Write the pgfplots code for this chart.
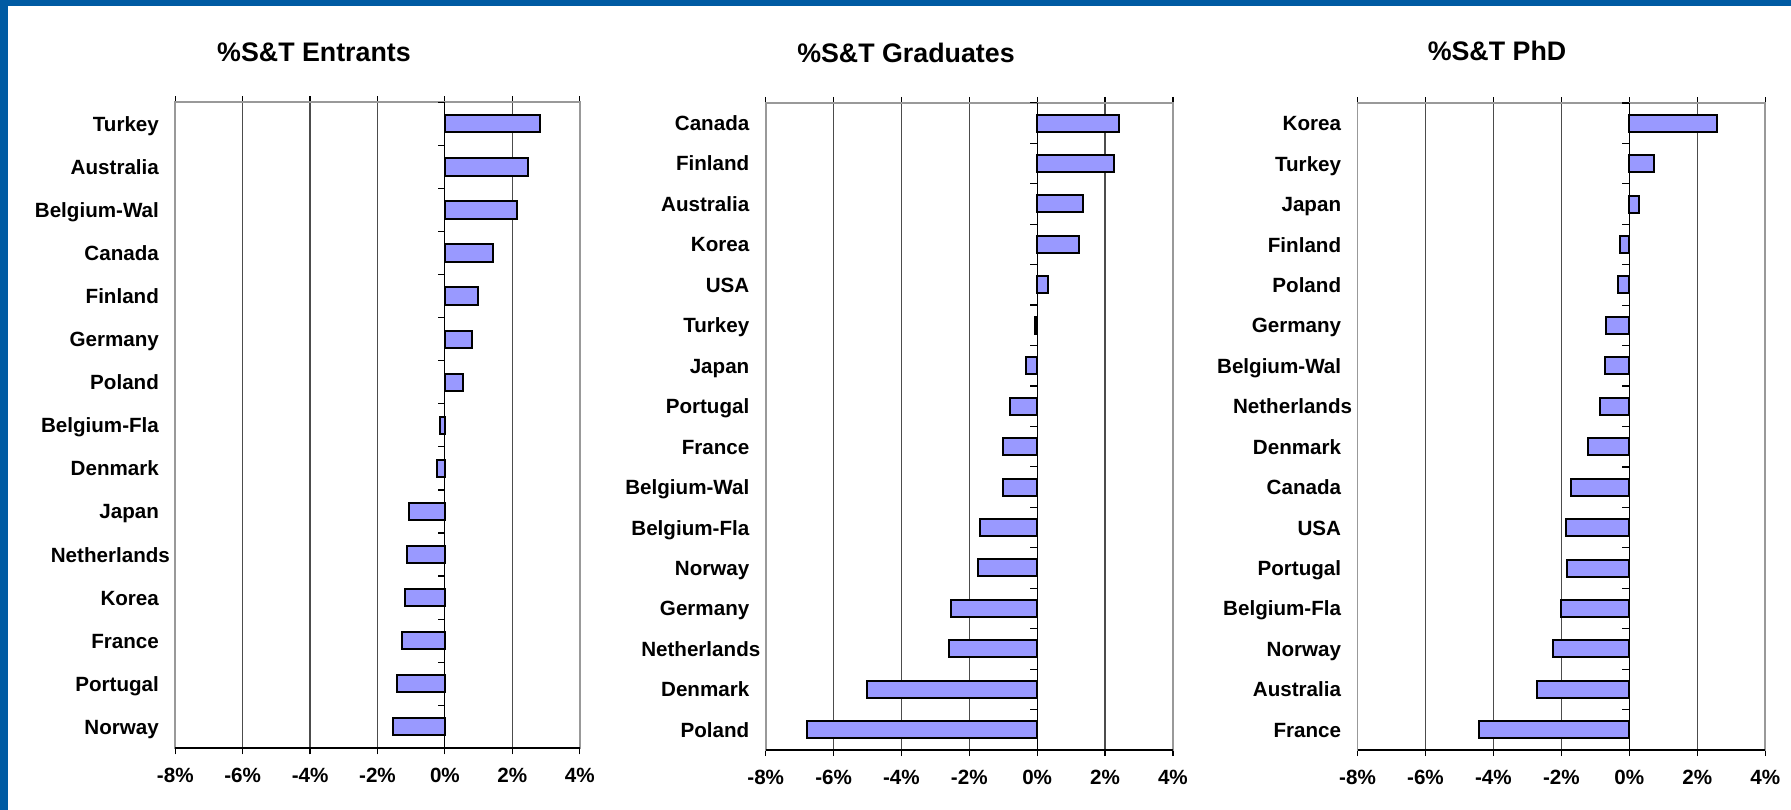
\documentclass[border=0pt]{standalone}
\usepackage{pgfplots}
\pgfplotsset{compat=1.18}
\usepackage{fontspec}
\setmainfont{Liberation Sans}
\definecolor{barfill}{HTML}{9999FF}
\definecolor{frameblue}{HTML}{005BA3}
\newcommand\gap{\hspace*{5.5bp}}

\pgfplotsset{
  panel/.style={
    scale only axis,
    anchor=south west,
    xbar,
    xmin=-8, xmax=4, ymin=-0.5, y dir=reverse,
    xtick={-8,-6,-4,-2,0,2,4},
    xticklabels={-8\%,-6\%,-4\%,-2\%,0\%,2\%,4\%},
    xmajorgrids,
    grid style={black!70, line width=0.6bp},
    axis line style={black!40, line width=0.9bp},
    tick align=outside,
    major tick length=3bp,
    x tick style={black, line width=0.6bp},
    y tick style={draw=none},
    tick label style={font=\bfseries\fontsize{10.3bp}{12bp}\selectfont},
    xticklabel style={yshift=-3.5bp},
    yticklabel style={inner xsep=0pt, xshift=0.5bp, text height=7.5bp, text depth=0bp},
    clip=false,
  },
  zeroticks/.style={
    execute at end axis={
      \draw[black, line width=0.9bp] (axis description cs:0,0) -- (axis description cs:1,0);
      \draw[black, line width=0.6bp] (axis cs:0,-0.5) -- (axis cs:0,#1);
      \pgfplotsinvokeforeach{-0.5,0.5,1.5,2.5,3.5,4.5,5.5,6.5,7.5,8.5,9.5,10.5,11.5,12.5,13.5,14.5,15.5}{
        \pgfmathparse{##1<=#1 ? 1 : 0}
        \ifnum\pgfmathresult=1
          \draw[black, line width=0.6bp] (axis cs:0,##1) -- ++(-3.5bp,0pt);
        \fi
      }
    }
  },
}

\begin{document}
\begin{tikzpicture}
\path[use as bounding box] (0bp,0bp) rectangle (895.5bp,405bp);
\fill[frameblue] (0bp,0bp) rectangle (4bp,405bp);
\fill[frameblue] (0bp,402bp) rectangle (895.5bp,405bp);

\tikzset{ttl/.style={font=\bfseries\fontsize{13.4bp}{16bp}\selectfont, anchor=base}}
\node[ttl] at (157bp,374bp) {\%S\&T Entrants};
\node[ttl] at (453bp,373.5bp) {\%S\&T Graduates};
\node[ttl] at (748.5bp,374.5bp) {\%S\&T PhD};

% Panel 1: Entrants
\begin{axis}[panel, zeroticks=14.5, ymax=14.5, ytick={0,...,14}, bar width=0.4,
  at={(87.65bp,30.85bp)}, width=202.2bp, height=323bp,
  yticklabels={Turkey\gap,Australia\gap,Belgium-Wal\gap,Canada\gap,Finland\gap,Germany\gap,Poland\gap,Belgium-Fla\gap,Denmark\gap,Japan\gap,Netherlands,Korea\gap,France\gap,Portugal\gap,Norway\gap}]
\addplot[fill=barfill, draw=black, line width=1bp] coordinates {
 (2.81,0) (2.47,1) (2.13,2) (1.44,3) (0.97,4) (0.79,5) (0.55,6) (-0.15,7)
 (-0.24,8) (-1.08,9) (-1.12,10) (-1.18,11) (-1.27,12) (-1.41,13) (-1.55,14)};
\end{axis}

% Panel 2: Graduates
\begin{axis}[panel, zeroticks=15.5, ymax=15.5, ytick={0,...,15}, bar width=0.42,
  at={(382.85bp,30bp)}, width=203.6bp, height=323.6bp,
  yticklabels={Canada\gap,Finland\gap,Australia\gap,Korea\gap,USA\gap,Turkey\gap,Japan\gap,Portugal\gap,France\gap,Belgium-Wal\gap,Belgium-Fla\gap,Norway\gap,Germany\gap,Netherlands,Denmark\gap,Poland\gap}]
\addplot[fill=barfill, draw=black, line width=1bp] coordinates {
 (2.40,0) (2.27,1) (1.34,2) (1.23,3) (0.32,4) (-0.06,5) (-0.33,6) (-0.80,7)
 (-1.02,8) (-1.02,9) (-1.68,10) (-1.73,11) (-2.54,12) (-2.59,13) (-5.02,14) (-6.78,15)};
\end{axis}

% Panel 3: PhD
\begin{axis}[panel, zeroticks=15.5, ymax=15.5, ytick={0,...,15}, bar width=0.42,
  at={(678.75bp,30bp)}, width=203.9bp, height=323.5bp,
  yticklabels={Korea\gap,Turkey\gap,Japan\gap,Finland\gap,Poland\gap,Germany\gap,Belgium-Wal\gap,Netherlands,Denmark\gap,Canada\gap,USA\gap,Portugal\gap,Belgium-Fla\gap,Norway\gap,Australia\gap,France\gap}]
\addplot[fill=barfill, draw=black, line width=1bp] coordinates {
 (2.58,0) (0.72,1) (0.29,2) (-0.29,3) (-0.33,4) (-0.68,5) (-0.72,6) (-0.86,7)
 (-1.21,8) (-1.72,9) (-1.86,10) (-1.84,11) (-2.00,12) (-2.24,13) (-2.72,14) (-4.42,15)};
\end{axis}
\end{tikzpicture}
\end{document}
